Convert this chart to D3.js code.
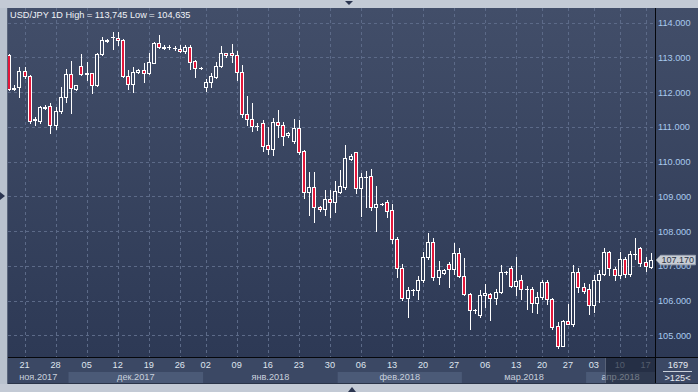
<!DOCTYPE html>
<html><head><meta charset="utf-8">
<script src="https://cdn.jsdelivr.net/npm/d3@7/dist/d3.min.js"></script>
<style>html,body{margin:0;padding:0;background:#c3cad5;}svg{display:block;}</style>
</head><body><svg id="c" width="698" height="392"></svg>
<script>
// ---- DATA ----
const title = 'USD/JPY 1D High = 113,745 Low = 104,635';
const openP = [113.07,112.10,112.16,112.62,112.47,111.22,111.18,111.56,111.60,111.07,
111.45,111.87,112.52,112.10,112.75,112.54,112.54,112.20,113.09,113.48,
113.58,113.55,113.50,112.48,112.23,112.57,112.64,112.56,112.85,113.41,
113.29,113.29,113.26,113.24,113.18,113.31,112.90,112.71,112.16,112.28,
112.45,112.75,113.12,113.12,113.07,112.59,111.36,111.22,111.04,111.10,
110.47,110.37,111.13,111.05,110.76,110.60,110.96,110.30,109.14,109.26,
108.71,108.65,108.92,108.83,109.14,109.28,110.09,110.27,109.23,109.57,
109.59,108.69,108.79,108.84,108.61,107.79,106.93,106.07,106.31,106.31,
106.60,107.25,107.68,106.67,106.79,107.05,106.90,107.36,106.71,106.18,
105.73,105.59,106.16,106.18,106.07,106.25,106.83,106.94,106.42,106.60,
106.33,106.33,105.94,106.11,106.54,106.05,105.27,104.71,105.41,105.34,
106.84,106.40,106.33,105.89,106.61,106.77,107.39,106.90,106.74,107.19,
106.77,107.34,107.53,107.10,106.96];
const highP = [113.10,112.21,112.72,112.72,112.50,111.28,111.60,111.62,111.68,111.58,
112.16,112.66,112.91,112.22,113.10,112.87,112.56,113.14,113.60,113.52,
113.74,113.745,113.53,112.64,112.72,112.66,112.85,113.12,113.45,113.65,
113.36,113.36,113.33,113.36,113.36,113.36,112.93,112.72,112.37,112.54,
112.87,113.33,113.14,113.39,113.19,112.78,111.89,111.70,111.10,111.20,
111.01,111.25,111.49,111.14,110.85,111.22,111.20,110.34,109.71,109.71,
108.73,109.19,109.20,109.44,109.76,110.48,110.21,110.29,109.67,109.74,
109.78,109.30,108.82,108.90,108.78,107.84,107.06,106.38,106.33,106.71,
107.41,107.94,107.80,107.14,106.90,107.11,107.65,107.51,107.22,106.21,
105.75,106.31,106.48,106.23,106.33,107.03,106.85,107.00,107.27,106.74,
106.42,106.38,106.26,106.60,106.60,106.07,105.39,105.44,105.90,107.03,
106.93,106.52,106.48,106.74,106.88,107.51,107.44,106.98,107.39,107.25,
107.44,107.80,107.55,107.25,107.38];
const lowP = [112.05,112.06,111.87,112.40,111.10,111.06,111.12,111.51,110.82,110.93,
111.39,111.73,111.39,112.06,112.49,112.35,111.99,112.19,113.07,113.45,
113.23,113.36,112.45,112.08,112.02,112.56,112.30,112.52,112.83,113.26,
113.24,113.23,113.20,113.17,113.12,112.66,112.45,112.66,112.04,112.16,
112.42,112.72,113.02,112.88,112.35,111.28,111.06,110.89,110.91,110.32,
110.22,110.18,110.70,110.48,110.72,110.55,110.22,108.95,108.47,108.27,
108.59,108.47,108.40,108.56,109.09,109.21,110.05,109.11,108.44,108.69,
108.61,108.02,108.75,108.42,107.65,106.69,106.02,105.52,106.16,106.06,
106.55,107.21,106.60,106.48,106.77,106.38,106.77,106.67,106.15,105.20,
105.66,105.54,105.83,105.45,105.90,106.21,106.77,106.38,106.16,106.05,
105.76,105.68,105.66,106.04,105.90,105.20,104.635,104.70,105.32,105.28,
106.26,106.21,105.62,105.68,105.97,106.74,106.74,106.60,106.64,106.67,
106.71,107.19,107.00,106.86,106.93];
const closeP = [112.08,112.12,112.62,112.47,111.18,111.21,111.56,111.55,111.07,111.45,
111.85,112.52,112.11,112.20,112.51,112.53,112.21,113.10,113.50,113.49,
113.58,113.49,112.48,112.23,112.57,112.64,112.56,112.86,113.43,113.29,
113.27,113.29,113.26,113.19,113.31,112.88,112.69,112.70,112.28,112.48,
112.75,113.12,113.06,113.06,112.59,111.36,111.22,111.04,111.04,110.46,
110.37,111.13,111.07,110.75,110.82,110.96,110.29,109.12,109.26,108.71,
108.63,108.92,108.83,109.15,109.30,110.10,110.16,109.23,109.55,109.57,
108.69,108.77,108.79,108.59,107.79,106.93,106.07,106.31,106.31,106.60,
107.25,107.68,106.67,106.88,106.88,106.90,107.36,106.71,106.18,105.72,
105.73,106.16,106.21,106.07,106.25,106.82,106.83,106.42,106.58,106.33,
106.33,105.94,106.11,106.54,106.04,105.25,104.71,105.41,105.32,106.84,
106.40,106.29,105.89,106.61,106.77,107.39,106.93,106.74,107.19,106.77,
107.34,107.34,107.09,106.99,107.17];
const yTickValues = [105,106,107,108,109,110,111,112,113,114];
const weekTickLabels = ['21','28','05','12','19','26','02','09','16','23','30','06','13','20','27','06','13','20','27','03','10','17'];
const weekTickBars   = [3,9,15,21,27,33,38,44,50,56,62,68,74,80,86,92,98,103,108,113,118,123];
const monthLabels    = ['ноя.2017','дек.2017','янв.2018','фев.2018','мар.2018','апр.2018'];
const monthStartBars = [0,12,38,64,88,112];
const lastPrice = 107.170;
const barCountLabel = '1679';
const visibleBarsLabel = '>125<';

// ---- LAYOUT ----
const W = 698, H = 392;
const L = 8, R = 655, T = 8, B = 357, AB = 384;
const FONT = '"Liberation Sans", Arial, sans-serif';
const FS = 9.2;
const RED = '#e3173a';
const fmt = v => d3.format(',.3f')(v);

const svg = d3.select('#c');
const defs = svg.append('defs');
const g1 = defs.append('linearGradient').attr('id','bg').attr('gradientUnits','userSpaceOnUse')
  .attr('x1',0).attr('y1',T).attr('x2',0).attr('y2',B);
g1.append('stop').attr('offset',0).attr('stop-color','#424e69');
g1.append('stop').attr('offset',1).attr('stop-color','#2d3955');
defs.append('clipPath').attr('id','plotclip').append('rect').attr('x',L).attr('y',T).attr('width',R-L).attr('height',B-T);

const n = openP.length;
const idx = d3.range(n);
const x = d3.scalePoint().domain(idx).range([9, 650.8]);
const y = d3.scaleLinear().domain([104.38, 114.423]).range([B, T]);

// frame
svg.append('rect').attr('x',0).attr('y',0).attr('width',W).attr('height',H).attr('fill','#c3cad5');
svg.append('rect').attr('x',0).attr('y',T).attr('width',L).attr('height',AB-T).attr('fill','#b9c2ce');
// plot + right panel background
svg.append('rect').attr('x',L).attr('y',T).attr('width',W-L).attr('height',B-T).attr('fill','url(#bg)');
// bottom axis background
svg.append('rect').attr('x',L).attr('y',B).attr('width',W-L).attr('height',AB-B).attr('fill','#3b4864');
svg.append('line').attr('x1',L-0.5).attr('x2',L-0.5).attr('y1',T).attr('y2',AB).attr('stroke','#5a667c');

// month bands
const half = x.step()/2;
monthLabels.forEach((m,i)=>{
  const x0 = i===0 ? L : x(monthStartBars[i]) - half;
  const x1 = i===monthLabels.length-1 ? R : x(monthStartBars[i+1]) - half;
  if (i % 2 === 1) {
    svg.append('rect').attr('x',x0).attr('y',372).attr('width',x1-x0).attr('height',AB-372).attr('fill','#4b5a77');
  }
  svg.append('text').attr('x',(x0+x1)/2).attr('y',379.5).attr('text-anchor','middle')
    .attr('font-family',FONT).attr('font-size',FS).attr('fill','#c9d1dd').text(m);
});

// grid
const gridG = svg.append('g').attr('clip-path','url(#plotclip)');
yTickValues.forEach(v=>{
  const yy = Math.round(y(v))+0.5;
  gridG.append('line').attr('x1',L).attr('x2',R).attr('y1',yy).attr('y2',yy)
    .attr('stroke','#5c6a88').attr('stroke-dasharray','3,3');
});
weekTickBars.forEach(b=>{
  const xx = Math.round(x(b))+0.5;
  gridG.append('line').attr('x1',xx).attr('x2',xx).attr('y1',T).attr('y2',B)
    .attr('stroke','#5c6a88').attr('stroke-dasharray','3,3');
});

// candles
const cg = svg.append('g').attr('clip-path','url(#plotclip)');
idx.forEach(k=>{
  const o = openP[k], c = closeP[k], h = highP[k], l = lowP[k];
  const cx = Math.round(x(k));
  cg.append('line').attr('x1',cx+0.5).attr('x2',cx+0.5)
    .attr('y1',Math.round(y(h))).attr('y2',Math.round(y(l))+1)
    .attr('stroke','#ffffff').attr('stroke-width',1);
  const yt = Math.round(y(Math.max(o,c))), yb = Math.round(y(Math.min(o,c)));
  cg.append('rect').attr('x',cx-2).attr('y',yt).attr('width',4).attr('height',yb-yt+1).attr('fill','#ffffff');
  if (yb-yt-1 > 0) {
    cg.append('rect').attr('x',cx-1).attr('y',yt+1).attr('width',2).attr('height',yb-yt-1)
      .attr('fill', c < o ? RED : 'url(#bg)');
  }
});

// week labels
weekTickBars.forEach((b,i)=>{
  svg.append('text').attr('x',x(b)).attr('y',368).attr('text-anchor','middle')
    .attr('font-family',FONT).attr('font-size',FS)
    .attr('fill', b >= 116 ? '#8e99ad' : '#dfe5ee').text(weekTickLabels[i]);
});
// scroll overlay at right of time axis
svg.append('rect').attr('x',605).attr('y',B+1).attr('width',R-605).attr('height',AB-B-1)
  .attr('fill','rgba(12,18,32,0.45)');
svg.append('line').attr('x1',605.5).attr('x2',605.5).attr('y1',B+1).attr('y2',AB).attr('stroke','rgba(140,150,170,0.5)');

// y axis labels
yTickValues.forEach(v=>{
  svg.append('text').attr('x',658).attr('y',y(v)+3.3)
    .attr('font-family',FONT).attr('font-size',FS).attr('fill','#a9caee').text(fmt(v));
});

// separators
svg.append('line').attr('x1',R+0.5).attr('x2',R+0.5).attr('y1',T).attr('y2',AB).attr('stroke','#05070c');
svg.append('line').attr('x1',L).attr('x2',W).attr('y1',B+0.5).attr('y2',B+0.5).attr('stroke','#05070c');
svg.append('line').attr('x1',L).attr('x2',W).attr('y1',AB-0.5).attr('y2',AB-0.5).attr('stroke','#2a3448');

// last price label
const py = y(lastPrice);
svg.append('path').attr('d',`M656,${py} L660.5,${py-4.8} L695.5,${py-4.8} L695.5,${py+4.8} L660.5,${py+4.8} Z`)
  .attr('fill','#c8cdd4').attr('stroke','#9aa3b1').attr('stroke-width',0.8);
svg.append('text').attr('x',661.5).attr('y',py+3.2).attr('font-family',FONT).attr('font-size',9)
  .attr('fill','#2b3447').text(fmt(lastPrice));

// bar count box
svg.append('text').attr('x',678).attr('y',367.5).attr('text-anchor','middle').attr('font-family',FONT)
  .attr('font-size',FS).attr('fill','#e6eaf0').text(barCountLabel);
svg.append('line').attr('x1',663).attr('x2',692).attr('y1',371.5).attr('y2',371.5).attr('stroke','#c9d0da');
svg.append('text').attr('x',677.5).attr('y',380.5).attr('text-anchor','middle').attr('font-family',FONT)
  .attr('font-size',FS).attr('fill','#e6eaf0').text(visibleBarsLabel);

// title
svg.append('text').attr('x',10).attr('y',17.5).attr('font-family',FONT).attr('font-size',FS)
  .attr('fill','#f0f3f7').text(title);

// frame markers
svg.append('path').attr('d','M345,1 L353,1 L349,5 Z').attr('fill','#2b3550');
svg.append('path').attr('d','M348,392 L356,392 L352,387 Z').attr('fill','#2b3550');
svg.append('path').attr('d','M0,192 L5,196 L0,200 Z').attr('fill','#2b3550');
</script></body></html>
